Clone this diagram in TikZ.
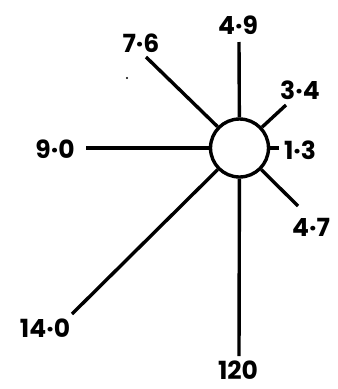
\documentclass[tikz,border=0pt]{standalone}
\usepackage{fontspec}
\setmainfont{Poppins}
\begin{document}
\begin{tikzpicture}[x=1pt,y=-1pt,
  spoke/.style={line width=3.4pt},
  lab/.style={font=\fontsize{25}{25}\selectfont\bfseries, inner sep=0pt, anchor=center}]
\useasboundingbox (0,0) rectangle (338,389);
\node[circle, draw, line width=3.4pt, minimum size=58pt, inner sep=0pt] (c) at (239.5,148) {};
% free ends
\coordinate (e49) at (239,42);
\coordinate (e76) at (146,57);
\coordinate (e34) at (286,105);
\coordinate (e13) at (279,148);
\coordinate (e90) at (86,148);
\coordinate (e140) at (72,314);
\coordinate (e120) at (239,356);
\coordinate (e47) at (298,206);
% labels
\node[lab] (l49) at (238,25) {4·9};
\node[lab] (l76) at (141,43) {7·6};
\node[lab] (l34) at (300,90) {3·4};
\node[lab] (l13) at (300,150) {1·3};
\node[lab] (l90) at (55,149) {9·0};
\node[lab] (l140) at (45,328) {14·0};
\node[lab] (l120) at (238,370) {120};
\node[lab] (l47) at (311,227) {4·7};
% spokes
\foreach \e in {e49,e76,e34,e13,e90,e140,e120,e47}
  \draw[spoke] (c) -- (\e);
% speck
\fill (127,78) circle (1.2pt);
\end{tikzpicture}
\end{document}
